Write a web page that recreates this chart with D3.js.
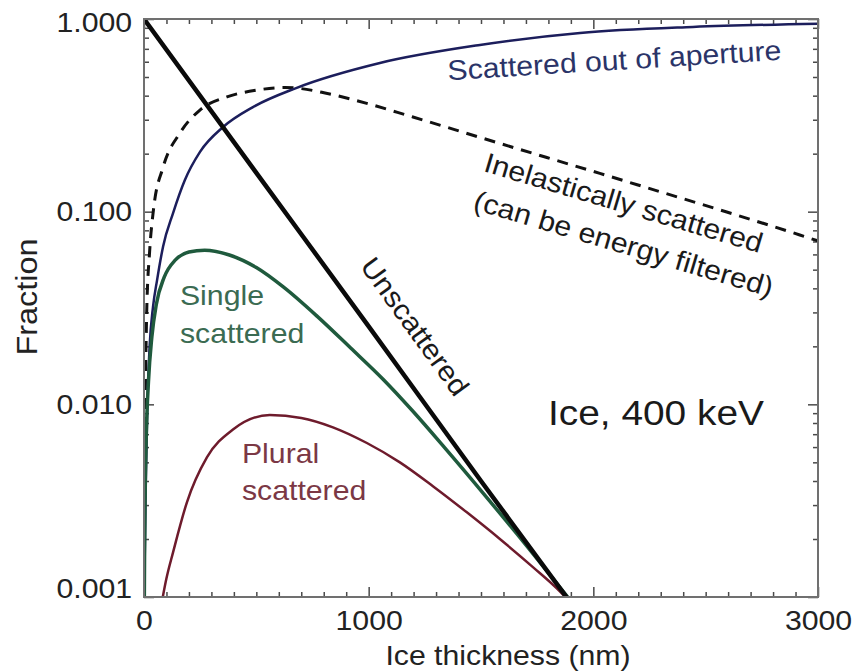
<!DOCTYPE html>
<html>
<head>
<meta charset="utf-8">
<script src="https://cdn.jsdelivr.net/npm/d3@7"></script>
<style>
  body { margin: 0; background: #fff; }
  text { font-family: "Liberation Sans", Arial, Helvetica, sans-serif; }
</style>
</head>
<body>
<div id="chart"></div>
<script>
// ice thickness (nm) and fraction
const unscatteredT = [0, 500, 1000, 1500, 1900];
const unscatteredV = [1.0, 0.159, 0.0254, 0.0040, 0.00093];

const apertureT = [3, 8, 15, 25, 40, 58, 85, 129, 182, 250, 352, 485, 677, 1050, 1495, 1941, 2443, 3000];
const apertureV = [0.0015, 0.004, 0.01, 0.02, 0.032, 0.044, 0.066, 0.098, 0.146, 0.205, 0.275, 0.349, 0.438, 0.591, 0.733, 0.846, 0.909, 0.945];

const inelasticT = [3, 12, 25, 42, 85, 160, 249, 369, 500, 628, 694, 806, 917, 1197, 1495, 1793, 2029, 2296, 2594, 2919, 3000];
const inelasticV = [0.006, 0.03, 0.062, 0.102, 0.17, 0.256, 0.337, 0.394, 0.427, 0.441, 0.436, 0.413, 0.385, 0.31, 0.243, 0.191, 0.158, 0.127, 0.0996, 0.0757, 0.0705];

const singleT = [1.5, 2.5, 5, 10, 20, 35, 55, 90, 140, 200, 270, 380, 500, 620, 770, 920, 1064, 1200, 1338, 1527, 1707, 1852, 1920];
const singleV = [0.001, 0.00166, 0.00331, 0.00676, 0.0132, 0.0224, 0.0331, 0.0457, 0.0562, 0.0617, 0.0631, 0.0596, 0.0513, 0.0407, 0.0287, 0.0196, 0.0135, 0.00912, 0.00596, 0.00327, 0.00182, 0.00112, 0.00089];

const pluralT = [80, 100, 129, 191, 280, 396, 560, 700, 841, 992, 1139, 1286, 1437, 1584, 1731, 1851, 1900];
const pluralV = [0.00095, 0.00125, 0.0017, 0.0031, 0.0053, 0.0074, 0.0088, 0.0085, 0.0076, 0.0063, 0.005, 0.00376, 0.00275, 0.002, 0.00143, 0.00107, 0.00093];

const xTickLabels = [0, 1000, 2000, 3000];
const yTickLabels = [0.001, 0.01, 0.1, 1];

const W = 860, H = 672;
const margin = { left: 144, top: 19, right: 42, bottom: 75 };

const svg = d3.select("#chart").append("svg")
    .attr("width", W)
    .attr("height", H)
    .style("background", "#fff");

const x = d3.scaleLinear().domain([0, 3000]).range([margin.left, W - margin.right]);
const y = d3.scaleLog().domain([0.001, 1]).range([H - margin.bottom, margin.top]);

const plotBottom = y(0.001), plotTop = y(1), plotLeft = x(0), plotRight = x(3000);

svg.append("clipPath").attr("id", "plotClip")
    .append("rect")
    .attr("x", plotLeft).attr("y", plotTop)
    .attr("width", plotRight - plotLeft).attr("height", plotBottom - plotTop);

// --- axes (ticks pointing inward on all four sides)
const xMinor = d3.range(100, 3000, 100).filter(d => d % 1000 !== 0);
const yMinor = [];
[0.001, 0.01, 0.1].forEach(d => { for (let k = 2; k <= 9; k++) yMinor.push(d * k); });

function styleAxis(g) {
    g.select(".domain").remove();
    g.selectAll(".tick line").attr("stroke", "#4a4a4a").attr("stroke-width", 1.5);
    g.selectAll("text")
        .attr("font-size", 28)
        .attr("fill", "#222")
        .attr("transform", "scale(1.08,1)");
}

svg.append("g").attr("transform", `translate(0,${plotBottom})`)
    .call(d3.axisBottom(x).tickValues(xTickLabels).tickSize(-10).tickPadding(13).tickFormat(d3.format("d")))
    .call(styleAxis);
svg.append("g").attr("transform", `translate(0,${plotBottom})`)
    .call(d3.axisBottom(x).tickValues(xMinor).tickSize(-5).tickFormat(""))
    .call(styleAxis);
svg.append("g").attr("transform", `translate(0,${plotTop})`)
    .call(d3.axisTop(x).tickValues(xTickLabels).tickSize(-10).tickFormat(""))
    .call(styleAxis);
svg.append("g").attr("transform", `translate(0,${plotTop})`)
    .call(d3.axisTop(x).tickValues(xMinor).tickSize(-5).tickFormat(""))
    .call(styleAxis);

const yAxisG = svg.append("g").attr("transform", `translate(${plotLeft},0)`)
    .call(d3.axisLeft(y).tickValues(yTickLabels).tickSize(-10).tickPadding(11).tickFormat(d3.format(".3f")))
    .call(styleAxis);
yAxisG.selectAll(".tick text")
    .attr("dy", d => d === 0.001 ? "0em" : d === 1 ? "0.46em" : "0.32em");
svg.append("g").attr("transform", `translate(${plotLeft},0)`)
    .call(d3.axisLeft(y).tickValues(yMinor).tickSize(-5).tickFormat(""))
    .call(styleAxis);
svg.append("g").attr("transform", `translate(${plotRight},0)`)
    .call(d3.axisRight(y).tickValues(yTickLabels).tickSize(-10).tickFormat(""))
    .call(styleAxis);
svg.append("g").attr("transform", `translate(${plotRight},0)`)
    .call(d3.axisRight(y).tickValues(yMinor).tickSize(-5).tickFormat(""))
    .call(styleAxis);

// --- curves
const line = d3.line()
    .x(d => x(d[0]))
    .y(d => y(d[1]))
    .curve(d3.curveMonotoneX);

const series = [
    { t: inelasticT, v: inelasticV, color: "#111", width: 3, dash: "11,8" },
    { t: apertureT, v: apertureV, color: "#1c1e5c", width: 2.5 },
    { t: pluralT, v: pluralV, color: "#6e1b2c", width: 2.5 },
    { t: singleT, v: singleV, color: "#1f5a3d", width: 3.5 },
    { t: unscatteredT, v: unscatteredV, color: "#0a0a0a", width: 4.5 }
];

const plot = svg.append("g").attr("clip-path", "url(#plotClip)");
series.forEach(s => {
    plot.append("path")
        .datum(d3.zip(s.t, s.v))
        .attr("d", line)
        .attr("fill", "none")
        .attr("stroke", s.color)
        .attr("stroke-width", s.width)
        .attr("stroke-dasharray", s.dash || null)
        .attr("stroke-linejoin", "round");
});

// frame
svg.append("rect")
    .attr("x", plotLeft).attr("y", plotTop)
    .attr("width", plotRight - plotLeft).attr("height", plotBottom - plotTop)
    .attr("fill", "none")
    .attr("stroke", "#707070")
    .attr("stroke-width", 2);

// --- annotations
function note(txt, t, v, o = {}) {
    svg.append("text")
        .attr("transform", `translate(${x(t)},${y(v)}) rotate(${o.rot || 0}) scale(1.08,1)`)
        .attr("text-anchor", o.anchor || "start")
        .attr("font-size", o.size || 28)
        .attr("fill", o.color || "#1a1a1a")
        .text(txt);
}

note("Scattered out of aperture", 2096, 0.544, { anchor: "middle", rot: -3.5, color: "#2b3468" });
note("Inelastically scattered", 2123, 0.0996, { anchor: "middle", rot: 16.5 });
note("(can be energy filtered)", 2123, 0.061, { anchor: "middle", rot: 16.5 });
note("Unscattered", 1171, 0.0237, { anchor: "middle", rot: 54 });
note("Single", 160, 0.0328, { color: "#3b6b52" });
note("scattered", 160, 0.0208, { color: "#3b6b52" });
note("Plural", 436, 0.00496, { color: "#7b3845" });
note("scattered", 436, 0.00319, { color: "#7b3845" });
note("Ice, 400 keV", 1798, 0.00781, { size: 36 });

// axis titles
svg.append("text")
    .attr("transform", `translate(${(plotLeft + plotRight) / 2 + 27},${H - 7}) scale(1.08,1)`)
    .attr("text-anchor", "middle")
    .attr("font-size", 28)
    .attr("fill", "#222")
    .text("Ice thickness (nm)");

svg.append("text")
    .attr("transform", `translate(37,${(plotTop + plotBottom) / 2 - 11}) rotate(-90) scale(1.08,1)`)
    .attr("text-anchor", "middle")
    .attr("font-size", 30)
    .attr("fill", "#222")
    .text("Fraction");
</script>
</body>
</html>
